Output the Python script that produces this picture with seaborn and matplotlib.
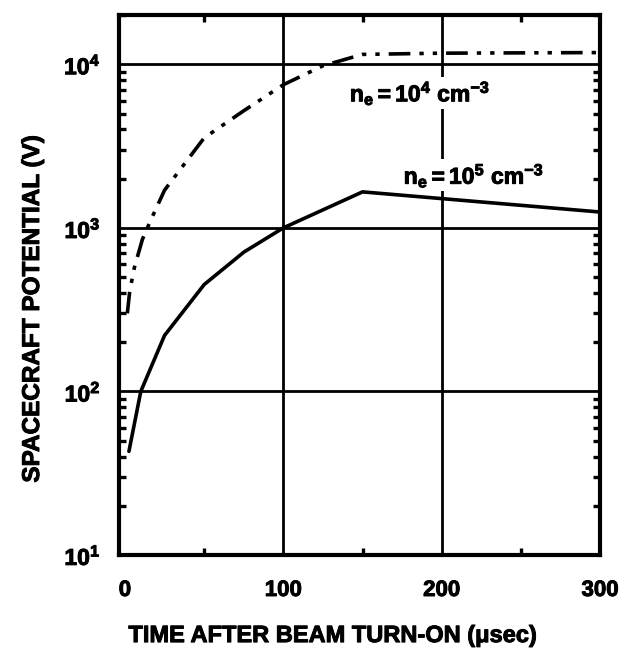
import matplotlib
matplotlib.use("Agg")
import matplotlib.pyplot as plt
import matplotlib.ticker as mticker
import matplotlib.patheffects as pe
import seaborn as sns
import pandas as pd

# Beam-on time (microseconds) and spacecraft potential (volts) for each ambient density
t_ne4 = [1.5, 3, 6, 11, 16, 25, 50, 75, 100, 125, 150, 200, 300]
v_ne4 = [300, 410, 575, 850, 1100, 1700, 3550, 5200, 7500, 9800, 11500, 11700, 11800]

t_ne5 = [2.5, 10, 25, 50, 75, 100, 150, 200, 300]
v_ne5 = [43, 100, 220, 450, 710, 1000, 1660, 1510, 1250]

x_ticks = [0, 100, 200, 300]
y_ticks = [10, 100, 1000, 10000]
y_tick_labels = [r"$\mathbf{10^{1}}$", r"$\mathbf{10^{2}}$", r"$\mathbf{10^{3}}$", r"$\mathbf{10^{4}}$"]

label_ne4 = r"$\mathbf{n_e = 10^4\ cm^{-3}}$"
label_ne5 = r"$\mathbf{n_e = 10^5\ cm^{-3}}$"

sns.set_style("white")
plt.rcParams["font.family"] = ["Liberation Sans", "DejaVu Sans"]
plt.rcParams["font.weight"] = "bold"
plt.rcParams["text.color"] = "black"
plt.rcParams["axes.labelcolor"] = "black"
plt.rcParams["xtick.color"] = "black"
plt.rcParams["ytick.color"] = "black"
plt.rcParams["mathtext.fontset"] = "custom"
plt.rcParams["mathtext.rm"] = "Liberation Sans:bold"
plt.rcParams["mathtext.bf"] = "Liberation Sans:bold"
plt.rcParams["mathtext.it"] = "Liberation Sans:bold"

heavy = [pe.withStroke(linewidth=0.7, foreground="black")]

df4 = pd.DataFrame({"t": t_ne4, "v": v_ne4})
df5 = pd.DataFrame({"t": t_ne5, "v": v_ne5})

fig = plt.figure(figsize=(6.31, 6.56), dpi=100)
ax = fig.add_axes([0.188, 0.154, 0.763, 0.823])

sns.lineplot(data=df5, x="t", y="v", ax=ax, color="black", lw=2.6, zorder=4)
sns.lineplot(data=df4, x="t", y="v", ax=ax, color="black", lw=2.6, zorder=4)
ax.lines[-1].set_dashes([6, 2.5, 1.2, 2.5, 1.2, 2.5])

ax.set_yscale("log")
ax.set_xlim(-4, 300)
ax.set_ylim(10, 2.0e4)

ax.xaxis.set_major_locator(mticker.FixedLocator(x_ticks))
ax.xaxis.set_minor_locator(mticker.FixedLocator([50, 150, 250]))
ax.yaxis.set_major_locator(mticker.FixedLocator(y_ticks))
ax.yaxis.set_major_formatter(mticker.FixedFormatter(y_tick_labels))
ax.yaxis.set_minor_locator(mticker.LogLocator(base=10, subs=range(2, 10)))
ax.yaxis.set_minor_formatter(mticker.NullFormatter())

ax.grid(True, which="major", color="black", lw=2.0)
ax.set_axisbelow(True)
# no grid line along the left frame at t = 0
ax.xaxis.get_gridlines()[0].set_visible(False)

ax.tick_params(which="major", length=0, pad=13, labelsize=16.5)
ax.tick_params(axis="x", which="major", pad=18, labelsize=16)
ax.tick_params(which="minor", direction="in", length=5, width=2.4,
               top=True, right=True, bottom=True, left=True)
for lab in ax.get_xticklabels() + ax.get_yticklabels():
    lab.set_fontweight("bold")
    lab.set_path_effects(heavy)

for s in ax.spines.values():
    s.set_linewidth(3.0)
    s.set_color("black")

ax.set_xlabel("TIME AFTER BEAM TURN-ON (\u03bcsec)", fontsize=17, fontweight="bold",
              path_effects=heavy)
ax.xaxis.set_label_coords(0.445, -0.128)
ax.set_ylabel("SPACECRAFT POTENTIAL (V)", fontsize=17.5, fontweight="bold",
              path_effects=heavy)
ax.yaxis.set_label_coords(-0.155, 0.455)

ax.text(142, 6700, label_ne4, fontsize=16.5, va="center", ha="left", zorder=5,
        path_effects=heavy, bbox=dict(facecolor="white", edgecolor="none", pad=1))
ax.text(176, 2100, label_ne5, fontsize=16.5, va="center", ha="left", zorder=5,
        path_effects=heavy, bbox=dict(facecolor="white", edgecolor="none", pad=1))

fig.savefig("out.png", dpi=100, facecolor="white")
